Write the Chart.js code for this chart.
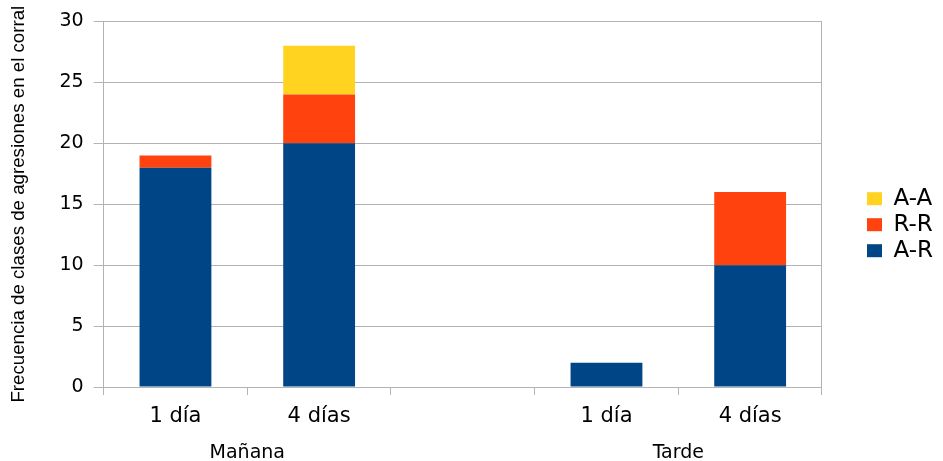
<!DOCTYPE html>
<html>
<head>
<meta charset="utf-8">
<script src="https://cdn.jsdelivr.net/npm/chart.js@4/dist/chart.umd.min.js"></script>
<style>
  html, body { margin: 0; padding: 0; background: #fff; }
  #wrap { width: 943px; height: 461px; }
</style>
</head>
<body>
<div id="wrap"><canvas id="chart" width="943" height="461"></canvas></div>
<script>
// five slots, the middle one is an empty spacer between the two groups
var categories = ['1 día', '4 días', '', '1 día', '4 días'];
// group captions sit between the two bars of each group (11 evenly spaced slots)
var groupLabels = ['', '', 'Mañana', '', '', '', '', '', 'Tarde', '', ''];

var serieAR = [18, 20, 0, 2, 10];
var serieRR = [1, 4, 0, 0, 6];
var serieAA = [0, 4, 0, 0, 0];

var yTicks = [0, 5, 10, 15, 20, 25, 30];

var gridColor = '#b3b3b3';
var tickFont = '"DejaVu Sans", "Liberation Sans", sans-serif';
var titleFont = '"Liberation Sans", Arial, sans-serif';

new Chart(document.getElementById('chart'), {
    type: 'bar',
    data: {
        labels: categories,
        datasets: [
            { label: 'A-R', data: serieAR, backgroundColor: '#004586' },
            { label: 'R-R', data: serieRR, backgroundColor: '#ff420e' },
            { label: 'A-A', data: serieAA, backgroundColor: '#ffd320' }
        ]
    },
    options: {
        responsive: false,
        animation: false,
        datasets: {
            bar: { categoryPercentage: 1.0, barPercentage: 0.5 }
        },
        layout: { padding: { top: 13, right: 0, left: 8, bottom: 0 } },
        plugins: {
            tooltip: { enabled: false },
            legend: {
                position: 'right',
                reverse: true,
                align: 'start',
                // blank title only pushes the entries down to where they sit in the original
                title: {
                    display: true,
                    text: ' ',
                    font: { size: 1 },
                    padding: { top: 170, bottom: 0 }
                },
                labels: {
                    boxWidth: 15,
                    boxHeight: 13,
                    padding: 3,
                    color: '#000',
                    font: { family: tickFont, size: 23 }
                }
            }
        },
        scales: {
            x: {
                stacked: true,
                offset: true,
                grid: {
                    offset: true,
                    drawOnChartArea: false,
                    drawTicks: true,
                    tickLength: 8,
                    color: gridColor
                },
                border: { display: true, color: gridColor },
                ticks: {
                    color: '#000',
                    padding: 11,
                    maxRotation: 0,
                    font: { family: tickFont, size: 21, lineHeight: 1 }
                },
                afterFit: function(axis) { axis.height = 40; }
            },
            group: {
                type: 'category',
                position: 'bottom',
                labels: groupLabels,
                offset: false,
                grid: { display: false, drawTicks: false },
                border: { display: false },
                ticks: {
                    color: '#000',
                    padding: 17,
                    maxRotation: 0,
                    autoSkip: false,
                    font: { family: tickFont, size: 19, lineHeight: 1 }
                },
                afterFit: function(axis) { axis.height = 34; }
            },
            y: {
                stacked: true,
                min: 0,
                max: 30,
                afterBuildTicks: function(axis) {
                    axis.ticks = yTicks.map(function(v) { return { value: v }; });
                },
                grid: { color: gridColor, tickLength: 10 },
                border: { display: true, color: gridColor },
                ticks: {
                    color: '#000',
                    padding: 10,
                    font: { family: tickFont, size: 19 }
                },
                title: {
                    display: true,
                    text: 'Frecuencia de clases de agresiones en el corral',
                    color: '#000',
                    padding: { top: 0, bottom: 19 },
                    font: { family: titleFont, size: 18.7 }
                }
            },
            // empty right axis: keeps the gap before the legend and draws the plot's right frame
            frame: {
                type: 'linear',
                position: 'right',
                grid: { display: false },
                border: { display: true, color: gridColor },
                ticks: { display: false },
                afterFit: function(axis) { axis.width = 42; }
            }
        }
    }
});
</script>
</body>
</html>
